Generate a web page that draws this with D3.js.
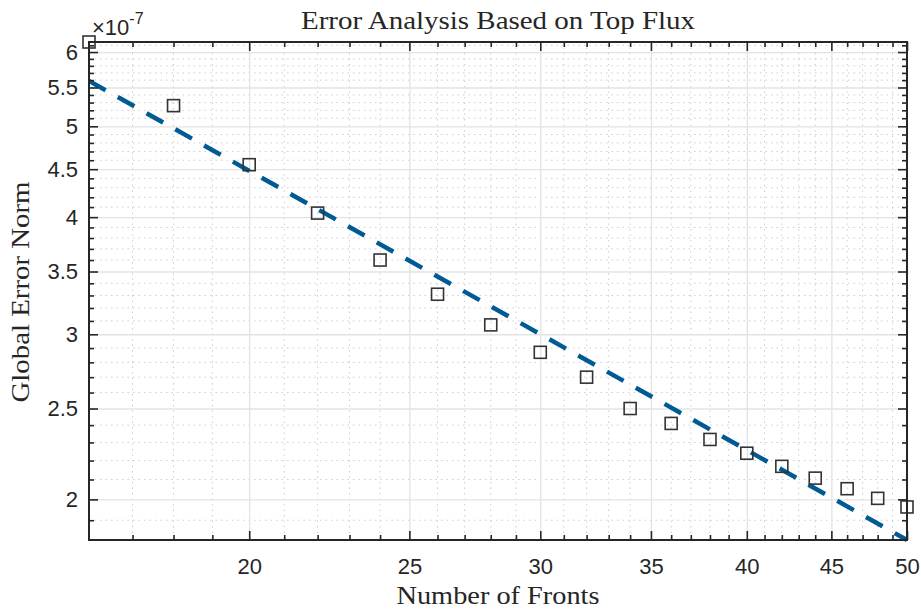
<!DOCTYPE html>
<html>
<head>
<meta charset="utf-8">
<script src="https://cdn.jsdelivr.net/npm/d3@7"></script>
<style>
  body { margin: 0; background: #fff; }
  .tick-label { font-family: "Liberation Sans", Arial, sans-serif; font-size: 22px; fill: #262626; }
  .latex { font-family: "Liberation Serif", "Times New Roman", serif; fill: #262626; }
</style>
</head>
<body>
<div id="chart"></div>
<script>
//------------------------------ DATA ------------------------------------------
var fronts = [16, 18, 20, 22, 24, 26, 28, 30, 32, 34, 36, 38, 40, 42, 44, 46, 48, 50];
var errorNorm = [6.15e-7, 5.26e-7, 4.55e-7, 4.04e-7, 3.60e-7, 3.31e-7, 3.07e-7, 2.87e-7, 2.70e-7,
                 2.50e-7, 2.41e-7, 2.317e-7, 2.24e-7, 2.169e-7, 2.107e-7, 2.053e-7, 2.005e-7, 1.963e-7];

// fitted power law, end points
var fitFronts = [16, 50];
var fitError = [5.59e-7, 1.81e-7];

var xMajorTicks = [20, 25, 30, 35, 40, 45, 50];
var xMinorTicks = [17, 18, 19, 21, 22, 23, 24, 26, 27, 28, 29, 31, 32, 33, 34, 36, 37, 38, 39,
                   41, 42, 43, 44, 46, 47, 48, 49];
var yMajorTicks = [2, 2.5, 3, 3.5, 4, 4.5, 5, 5.5, 6];   // x 1e-7
var yMinorTicks = [1.9, 2.1, 2.2, 2.3, 2.4, 2.6, 2.7, 2.8, 2.9, 3.1, 3.2, 3.3, 3.4, 3.6, 3.7, 3.8, 3.9,
                   4.1, 4.2, 4.3, 4.4, 4.6, 4.7, 4.8, 4.9, 5.1, 5.2, 5.3, 5.4, 5.6, 5.7, 5.8, 5.9, 6.1];

//------------------------------ SET-UP ----------------------------------------
var width = 921;
var height = 610;
var margin = {left: 89, right: 14, top: 42, bottom: 70};
var innerW = width - margin.left - margin.right;
var innerH = height - margin.top - margin.bottom;

var svg = d3.select("#chart").append("svg")
    .attr("width", width)
    .attr("height", height);

var xScale = d3.scaleLog().domain([16, 50]).range([0, innerW]);
var yScale = d3.scaleLog().domain([1.81e-7, 6.15e-7]).range([innerH, 0]);

var g = svg.append("g")
    .attr("transform", "translate(" + margin.left + "," + margin.top + ")");

//------------------------------ GRID ------------------------------------------
// minor grid, dotted
g.append("g").selectAll("line")
    .data(xMinorTicks).enter().append("line")
    .attr("x1", d => xScale(d)).attr("x2", d => xScale(d))
    .attr("y1", 0).attr("y2", innerH)
    .attr("stroke", "#cdcdcd").attr("stroke-width", 1).attr("stroke-dasharray", "1.5,4");

g.append("g").selectAll("line")
    .data(yMinorTicks).enter().append("line")
    .attr("x1", 0).attr("x2", innerW)
    .attr("y1", d => yScale(d * 1e-7)).attr("y2", d => yScale(d * 1e-7))
    .attr("stroke", "#cdcdcd").attr("stroke-width", 1).attr("stroke-dasharray", "1.5,4");

// major grid, solid
var xAxisGrid = d3.axisBottom(xScale).tickValues(xMajorTicks).tickSize(-innerH).tickFormat("");
g.append("g")
    .attr("transform", "translate(0," + innerH + ")")
    .call(xAxisGrid)
    .call(s => s.select(".domain").remove())
    .selectAll("line").attr("stroke", "#e3e3e3").attr("stroke-width", 1.3);

var yAxisGrid = d3.axisLeft(yScale).tickValues(yMajorTicks.map(v => v * 1e-7)).tickSize(-innerW).tickFormat("");
g.append("g")
    .call(yAxisGrid)
    .call(s => s.select(".domain").remove())
    .selectAll("line").attr("stroke", "#e3e3e3").attr("stroke-width", 1.3);

//------------------------------ FIT LINE & MARKERS ----------------------------
var line = d3.line()
    .x((d, i) => xScale(fitFronts[i]))
    .y(d => yScale(d));

g.append("path")
    .datum(fitError)
    .attr("d", line)
    .attr("fill", "none")
    .attr("stroke", "#005a94")
    .attr("stroke-width", 4.5)
    .attr("stroke-dasharray", "19,14");

var size = 12;
g.append("g").selectAll("rect")
    .data(fronts).enter().append("rect")
    .attr("x", d => xScale(d) - size / 2)
    .attr("y", (d, i) => yScale(errorNorm[i]) - size / 2)
    .attr("width", size).attr("height", size)
    .attr("fill", "none")
    .attr("stroke", "#333")
    .attr("stroke-width", 1.6);

//------------------------------ AXES ------------------------------------------
function styleAxis(s) {
    s.select(".domain").remove();
    s.selectAll(".tick line").attr("stroke", "#262626").attr("stroke-width", 1.6);
}

// bottom: labels + inward major ticks
g.append("g")
    .attr("transform", "translate(0," + innerH + ")")
    .call(d3.axisBottom(xScale).tickValues(xMajorTicks).tickSize(-9).tickPadding(18).tickFormat(d3.format("d")))
    .call(styleAxis)
    .selectAll("text").attr("class", "tick-label").attr("dy", "0.71em");
g.append("g")
    .attr("transform", "translate(0," + innerH + ")")
    .call(d3.axisBottom(xScale).tickValues(xMinorTicks).tickSize(-5).tickFormat(""))
    .call(styleAxis);

// top: mirror ticks
g.append("g")
    .call(d3.axisTop(xScale).tickValues(xMajorTicks).tickSize(-9).tickFormat(""))
    .call(styleAxis);
g.append("g")
    .call(d3.axisTop(xScale).tickValues(xMinorTicks).tickSize(-5).tickFormat(""))
    .call(styleAxis);

// left: labels + ticks
g.append("g")
    .call(d3.axisLeft(yScale).tickValues(yMajorTicks.map(v => v * 1e-7)).tickSize(-9).tickPadding(11)
        .tickFormat(d => d3.format("~g")(Math.round(d * 1e8) / 10)))
    .call(styleAxis)
    .selectAll("text").attr("class", "tick-label");
g.append("g")
    .call(d3.axisLeft(yScale).tickValues(yMinorTicks.map(v => v * 1e-7)).tickSize(-5).tickFormat(""))
    .call(styleAxis);

// right: mirror ticks
g.append("g")
    .attr("transform", "translate(" + innerW + ",0)")
    .call(d3.axisRight(yScale).tickValues(yMajorTicks.map(v => v * 1e-7)).tickSize(-9).tickFormat(""))
    .call(styleAxis);
g.append("g")
    .attr("transform", "translate(" + innerW + ",0)")
    .call(d3.axisRight(yScale).tickValues(yMinorTicks.map(v => v * 1e-7)).tickSize(-5).tickFormat(""))
    .call(styleAxis);

// box
g.append("rect")
    .attr("width", innerW).attr("height", innerH)
    .attr("fill", "none").attr("stroke", "#262626").attr("stroke-width", 2);

//------------------------------ LABELS ----------------------------------------
// exponent
var expo = svg.append("text")
    .attr("class", "tick-label")
    .attr("x", margin.left + 3)
    .attr("y", 35);
expo.append("tspan").text("\u00d710").style("font-size", "22px");
expo.append("tspan").text("-7").attr("dy", -11).style("font-size", "16px");

// title and axis labels, stretched to the width of the LaTeX originals
svg.append("text")
    .attr("class", "latex")
    .attr("x", margin.left + innerW / 2)
    .attr("y", 29)
    .attr("text-anchor", "middle")
    .attr("textLength", 394)
    .attr("lengthAdjust", "spacingAndGlyphs")
    .style("font-size", "26px")
    .text("Error Analysis Based on Top Flux");

svg.append("text")
    .attr("class", "latex")
    .attr("x", margin.left + innerW / 2)
    .attr("y", 604)
    .attr("text-anchor", "middle")
    .attr("textLength", 203)
    .attr("lengthAdjust", "spacingAndGlyphs")
    .style("font-size", "26px")
    .text("Number of Fronts");

svg.append("text")
    .attr("class", "latex")
    .attr("transform", "translate(29," + (margin.top + innerH / 2 + 1) + ") rotate(-90)")
    .attr("text-anchor", "middle")
    .attr("textLength", 221)
    .attr("lengthAdjust", "spacingAndGlyphs")
    .style("font-size", "26px")
    .text("Global Error Norm");
</script>
</body>
</html>
